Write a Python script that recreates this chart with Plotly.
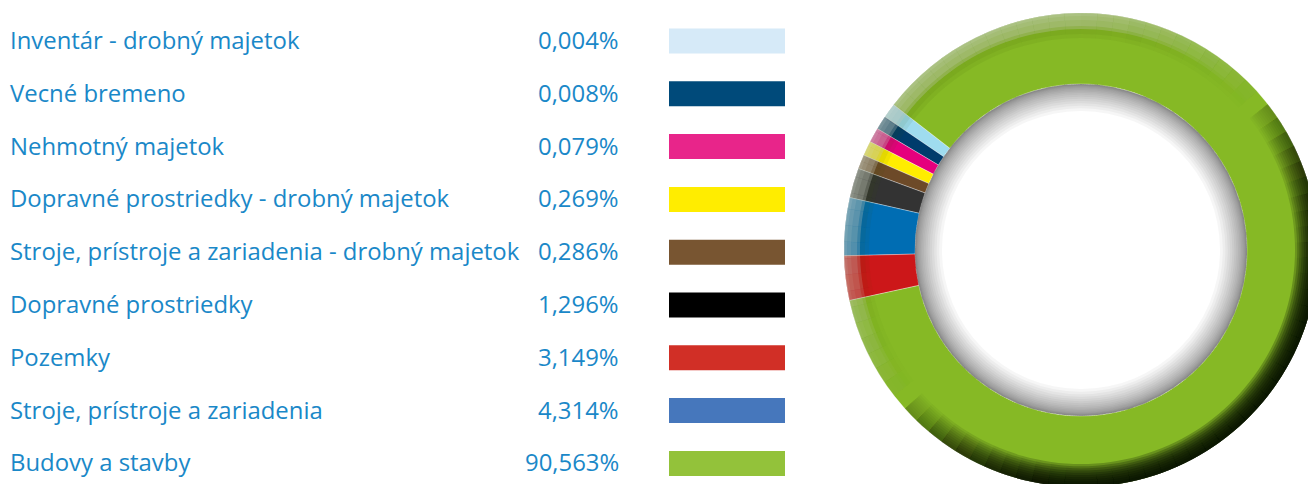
import math
import plotly.graph_objects as go

# ---------------- data ----------------
categories = [
    "Inventár - drobný majetok",
    "Vecné bremeno",
    "Nehmotný majetok",
    "Dopravné prostriedky - drobný majetok",
    "Stroje, prístroje a zariadenia - drobný majetok",
    "Dopravné prostriedky",
    "Pozemky",
    "Stroje, prístroje a zariadenia",
    "Budovy a stavby",
]
percent_values = [0.004, 0.008, 0.079, 0.269, 0.286, 1.296, 3.149, 4.314, 90.563]
# share of the ring each slice occupies as drawn in the picture (small ones enlarged)
ring_share = [1.0, 0.95, 1.0, 1.0, 0.97, 2.03, 3.03, 3.94, 86.08]
# order of slices around the ring (counter-clockwise)
ring_order = [0, 1, 2, 3, 4, 5, 7, 6, 8]

swatch_colors = ["#d6eaf8", "#004a7a", "#e8258a", "#ffed00", "#785531",
                 "#000000", "#d12f26", "#4677bc", "#93c23a"]
ring_colors = ["#9fdcef", "#003c6c", "#e5007d", "#ffed00", "#6d4a28",
               "#333333", "#cc1719", "#006db3", "#86b925"]

# ---------------- geometry / style ----------------
W, H = 1320, 490
CX, CY, R = 1081, 250, 237          # donut centre (px from top-left) and outer radius
R_IN = 166                          # hole radius
TEXT_COLOR = "#1a88c8"
FONT = "Open Sans"
FONT_SIZE = 23.9
ROW0, ROW_STEP = 41, 52.8


def dom(radius):
    return dict(x=[(CX - radius) / W, (CX + radius) / W],
                y=[(H - CY - radius) / H, (H - CY + radius) / H])


fig = go.Figure()

# main donut
fig.add_trace(go.Pie(
    labels=[categories[i] for i in ring_order],
    values=[ring_share[i] for i in ring_order],
    marker=dict(colors=[ring_colors[i] for i in ring_order],
                line=dict(color="rgba(255,255,255,0.55)", width=0.6)),
    hole=R_IN / R, sort=False, direction="counterclockwise", rotation=-55.8,
    textinfo="none", hoverinfo="label+percent", domain=dom(R), showlegend=False,
))

# ---- outer bevel shading: light from the top-left, dark towards the bottom-right ----
N = 90
ang = [90 - (k + 0.5) * 360 / N for k in range(N)]   # slice centre angles
LIGHT_DIR = 130


def ring(hole_r, colfun, radius=R):
    cols = [colfun(math.cos(math.radians(th - LIGHT_DIR))) for th in ang]
    fig.add_trace(go.Pie(
        values=[1] * N, marker=dict(colors=cols, line=dict(width=0)),
        hole=hole_r / radius, sort=False, direction="clockwise", rotation=0,
        textinfo="none", hoverinfo="skip", domain=dom(radius), showlegend=False,
    ))


def lit(f, a):
    return a * min(1.0, 1.3 * max(0.0, f))


# soft darker olive bevel on the lit side
ring(212, lambda f: f"rgba(60,80,0,{lit(f, 0.07):.3f})")
ring(216, lambda f: f"rgba(60,80,0,{lit(f, 0.07):.3f})")
# light grey-ish band on the lit side
ring(221, lambda f: f"rgba(195,200,190,{lit(f, 0.30):.3f})")
ring(224, lambda f: f"rgba(205,210,200,{lit(f, 0.22):.3f})")
ring(230, lambda f: f"rgba(215,220,210,{lit(f, 0.12):.3f})")
ring(234, lambda f: f"rgba(225,228,220,{lit(f, 0.12):.3f})")
# dark gradient on the shadow side
for k in range(10):
    ring(R - 23 + 2.2 * k,
         lambda f: f"rgba(6,12,0,{0.23 * min(1, 1.4 * max(0.0, -f)):.3f})")

# ---- inner hole shadow (concentric translucent rings, denser near the edge) ----
M = 16
for k in range(M):
    d = 1.0 + 26.0 * ((k + 1) / M) ** 1.7
    fig.add_trace(go.Pie(
        values=[1], marker=dict(colors=["rgba(0,0,0,0.037)"], line=dict(width=0)),
        hole=(R_IN - d) / R_IN, sort=False, textinfo="none", hoverinfo="skip",
        domain=dom(R_IN), showlegend=False,
    ))

# ---------------- table on the left ----------------
annotations = []
shapes = []
for i, (name, pv, sc) in enumerate(zip(categories, percent_values, swatch_colors)):
    yc = ROW0 + i * ROW_STEP
    yt = 1 - (yc - 1.5) / H
    annotations.append(dict(x=8 / W, y=yt, xref="paper", yref="paper", text=name,
                            showarrow=False, xanchor="left", yanchor="middle",
                            font=dict(family=FONT, size=FONT_SIZE, color=TEXT_COLOR)))
    annotations.append(dict(x=621 / W, y=yt, xref="paper", yref="paper",
                            text=f"{pv:.3f}".replace(".", ",") + "%",
                            showarrow=False, xanchor="right", yanchor="middle",
                            font=dict(family=FONT, size=FONT_SIZE, color=TEXT_COLOR)))
    shapes.append(dict(type="rect", xref="paper", yref="paper",
                       x0=669 / W, x1=785 / W, y0=1 - (yc + 12.5) / H, y1=1 - (yc - 12.5) / H,
                       fillcolor=sc, line=dict(width=0)))

fig.update_layout(
    width=W, height=H, margin=dict(l=0, r=0, t=0, b=0),
    paper_bgcolor="white", plot_bgcolor="white", showlegend=False,
    annotations=annotations, shapes=shapes,
)

fig.write_html("out.html", config={"displayModeBar": False},
               post_script="document.body.style.margin='0';document.body.style.overflow='hidden';")
